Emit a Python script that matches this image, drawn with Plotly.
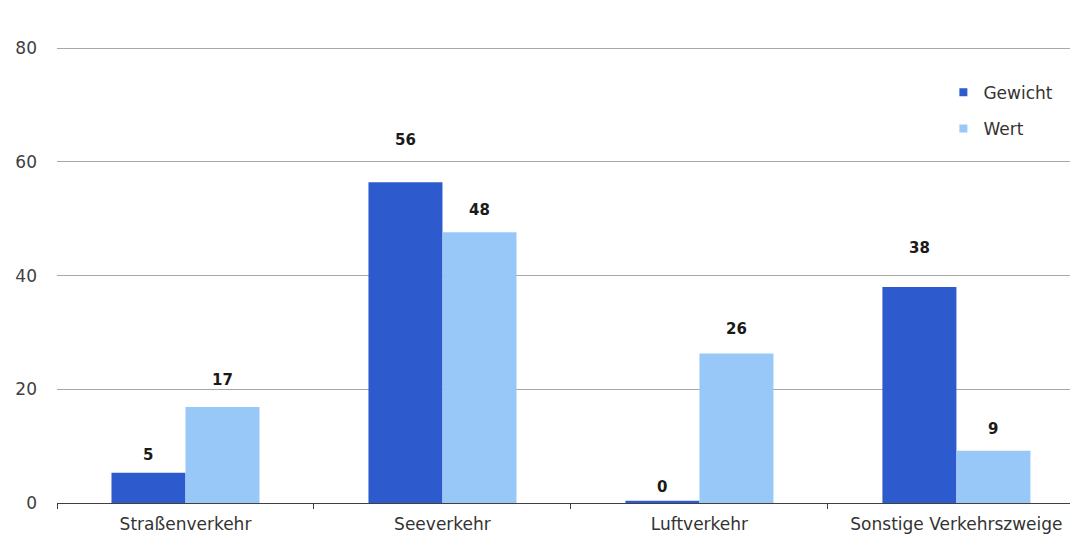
import plotly.graph_objects as go

# ---- data ----
categories = ["Straßenverkehr", "Seeverkehr", "Luftverkehr", "Sonstige Verkehrszweige"]
gewicht = [5.3, 56.4, 0.4, 38.0]
wert = [16.9, 47.6, 26.3, 9.2]
series_names = ["Gewicht", "Wert"]
y_ticks = [0, 20, 40, 60, 80]

# ---- style ----
col_gewicht = "#2D5BCD"
col_wert = "#98C8F8"
label_lift_gewicht = [18, 42, 14, 39]   # px above bar top (label centre)
label_lift_wert = [27, 22, 24, 22]
font_family = "DejaVu Sans"

fig = go.Figure()
fig.add_trace(go.Bar(x=categories, y=gewicht, name=series_names[0],
                     marker=dict(color=col_gewicht, line=dict(width=0)),
                     showlegend=False, hoverinfo="skip"))
fig.add_trace(go.Bar(x=categories, y=wert, name=series_names[1],
                     marker=dict(color=col_wert, line=dict(width=0)),
                     showlegend=False, hoverinfo="skip"))

# legend entries (small square markers)
for nm, col, grp in [(series_names[0], col_gewicht, "a"), (series_names[1], col_wert, "b")]:
    fig.add_trace(go.Scatter(x=[None], y=[None], mode="markers", name=nm,
                             legendgroup=grp,
                             marker=dict(symbol="square", size=8, color=col)))

# value labels
for vals, lifts, shift in [(gewicht, label_lift_gewicht, -37), (wert, label_lift_wert, 37)]:
    for c, v, lift in zip(categories, vals, lifts):
        fig.add_annotation(x=c, y=v, text=f"<b>{round(v)}</b>", showarrow=False,
                           xshift=shift, yshift=lift, yanchor="middle",
                           font=dict(family=font_family, size=15, color="#1a1a1a"))

fig.update_layout(
    template="none",
    width=1070, height=537,
    margin=dict(l=57, r=0, t=47, b=34, autoexpand=False),
    paper_bgcolor="white", plot_bgcolor="white",
    barmode="group", bargap=0.424, bargroupgap=0,
    font=dict(family=font_family, size=16, color="#404040"),
    legend=dict(x=0.875, y=0.939, xanchor="left", yanchor="top",
                font=dict(family=font_family, size=17, color="#333333"),
                bgcolor="rgba(0,0,0,0)", traceorder="grouped",
                tracegroupgap=11, itemwidth=30),
    xaxis=dict(type="category", range=[-0.5, 3.442], showgrid=False,
               showline=True, linecolor="#404040", linewidth=1,
               ticks="outside", tickson="boundaries", ticklen=5,
               tickcolor="#404040", ticklabelstandoff=6,
               tickfont=dict(size=17, color="#333333"),
               automargin=False, fixedrange=True),
    yaxis=dict(range=[0, 80.2], tickvals=y_ticks, showgrid=True,
               gridcolor="#A8A8A8", gridwidth=1, zeroline=False,
               showline=False, ticks="", ticklabelstandoff=19,
               tickfont=dict(size=17, color="#404040"),
               automargin=False, fixedrange=True),
)

fig.write_html("out.html", config={"displayModeBar": False},
               post_script="document.body.style.margin='0';")
